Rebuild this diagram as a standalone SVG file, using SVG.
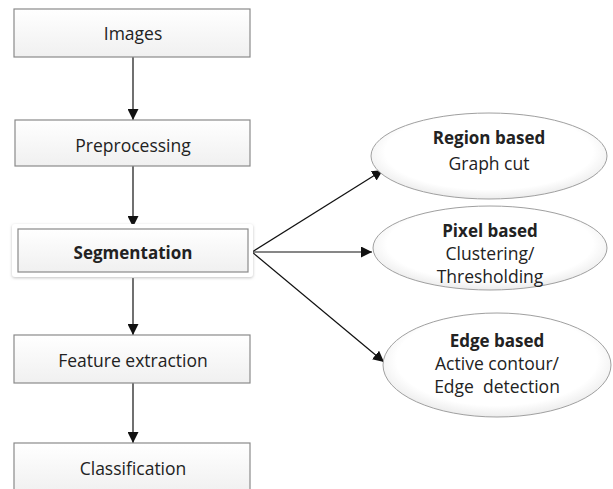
<svg xmlns="http://www.w3.org/2000/svg" width="613" height="489" viewBox="0 0 613 489">
<style>
.box{fill:url(#g);stroke:#8a8a8a;stroke-width:1.2}
.ell{fill:url(#eg);stroke:#a0a0a0;stroke-width:1}
text{font-family:"Open Sans","Liberation Sans",sans-serif;font-size:17.5px;fill:#222;text-anchor:middle}
.b{font-weight:bold;font-size:17px}
.c{stroke:#111;stroke-width:1.2;fill:none;marker-end:url(#a)}
</style>
<defs>
<linearGradient id="g" x1="0" y1="0" x2="0" y2="1"><stop offset="0" stop-color="#ffffff"/><stop offset="1" stop-color="#f0f0f0"/></linearGradient>
<radialGradient id="eg" cx="0.5" cy="0.45" r="0.55"><stop offset="0.8" stop-color="#ffffff"/><stop offset="1" stop-color="#ececec"/></radialGradient>
<marker id="a" viewBox="0 0 10 10" refX="10" refY="5" markerWidth="11" markerHeight="11" markerUnits="userSpaceOnUse" orient="auto"><path d="M0,0 L10,5 L0,10 z" fill="#111"/></marker>
<filter id="s" x="-10%" y="-20%" width="120%" height="140%"><feDropShadow dx="0" dy="1" stdDeviation="1.5" flood-color="#999" flood-opacity="0.6"/></filter>
</defs>
<g id="connectors">
<line class="c" x1="133" y1="57" x2="133" y2="120"/>
<line class="c" x1="133" y1="166" x2="133" y2="227"/>
<line class="c" x1="133" y1="278" x2="133" y2="335"/>
<line class="c" x1="133" y1="383" x2="133" y2="443"/>
<line class="c" x1="252" y1="252" x2="383" y2="170"/>
<line class="c" x1="252" y1="252" x2="372" y2="252"/>
<line class="c" x1="252" y1="252" x2="384" y2="362"/>
</g>
<g id="images"><rect class="box" x="14" y="9" width="236" height="48"/><text x="133" y="40">Images</text></g>
<g id="preprocessing"><rect class="box" x="15" y="120" width="235" height="46"/><text x="133" y="152">Preprocessing</text></g>
<g id="segmentation"><rect x="12" y="224" width="241" height="53" rx="3" fill="#fff" filter="url(#s)"/><rect class="box" x="18" y="229" width="230" height="43"/><text class="b" x="133" y="259">Segmentation</text></g>
<g id="feature"><rect class="box" x="14" y="335" width="236" height="48"/><text x="133" y="367">Feature extraction</text></g>
<g id="classification"><rect class="box" x="14" y="443" width="236" height="50"/><text x="133" y="475">Classification</text></g>
<g id="region"><ellipse class="ell" cx="489" cy="156" rx="118" ry="43"/><text class="b" x="489" y="144">Region based</text><text x="489" y="170">Graph cut</text></g>
<g id="pixel"><ellipse class="ell" cx="490" cy="248" rx="117" ry="42"/><text class="b" x="490" y="237">Pixel based</text><text x="490" y="260">Clustering/</text><text x="490" y="283">Thresholding</text></g>
<g id="edge"><ellipse class="ell" cx="497" cy="365" rx="114" ry="52"/><text class="b" x="497" y="347">Edge based</text><text x="497" y="370">Active contour/</text><text x="497" y="393" xml:space="preserve">Edge  detection</text></g>
</svg>
